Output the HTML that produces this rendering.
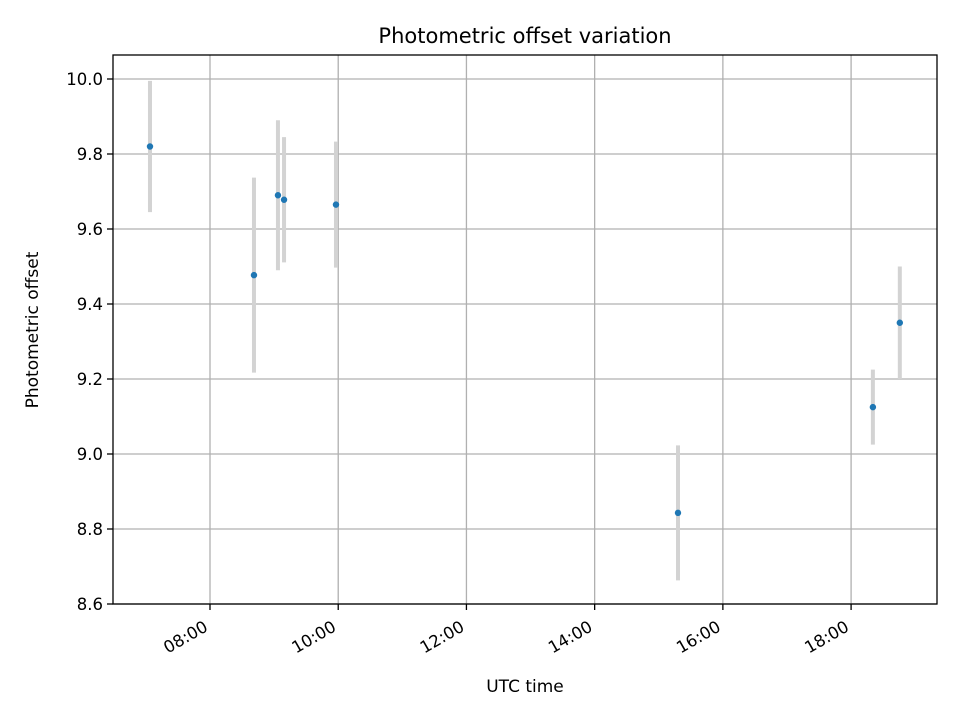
<!DOCTYPE html>
<html><head><meta charset="utf-8"><style>
body{margin:0;background:#fff;}
svg{display:block;font-family:"DejaVu Sans","Liberation Sans",sans-serif;}
</style></head><body>
<svg id="chart" width="960" height="720" viewBox="0 0 960 720">
<rect width="960" height="720" fill="#fff"/>
<text x="525" y="43" text-anchor="middle" font-size="21">Photometric offset variation</text>
<g id="grid"></g><g id="errs"></g><g id="pts"></g><g id="axes"></g>
<text x="525" y="692" text-anchor="middle" font-size="17">UTC time</text>
<text transform="translate(38,330) rotate(-90)" text-anchor="middle" font-size="17">Photometric offset</text>
</svg>
<script>
const times = [7.064, 8.686, 9.06, 9.155, 9.965, 15.3, 18.34, 18.76];
const offsets = [9.82, 9.477, 9.69, 9.678, 9.665, 8.843, 9.125, 9.35];
const errors = [0.175, 0.26, 0.2, 0.167, 0.168, 0.18, 0.1, 0.15];
const yTicks = [8.6, 8.8, 9.0, 9.2, 9.4, 9.6, 9.8, 10.0];
const xTicks = [8, 10, 12, 14, 16, 18];
const xTickLabels = ["08:00","10:00","12:00","14:00","16:00","18:00"];

const L=113,R=937,T=55,B=604;
const xMin=6.487,xMax=19.34,yMin=8.6,yMax=10.064;
const sx=v=>L+(v-xMin)/(xMax-xMin)*(R-L);
const sy=v=>B-(v-yMin)/(yMax-yMin)*(B-T);
const NS="http://www.w3.org/2000/svg";
function mk(tag,attrs,parent){const e=document.createElementNS(NS,tag);for(const k in attrs)e.setAttribute(k,attrs[k]);document.getElementById(parent).appendChild(e);return e;}

yTicks.forEach(v=>{
  const y=sy(v);
  const g=mk('line',{x1:L,x2:R,y1:y,y2:y,stroke:'#b0b0b0','stroke-width':1.3},'grid');
  
  
  const t=mk('line',{x1:L-6,x2:L,y1:y,y2:y,stroke:'#000','stroke-width':1.3},'axes');
  
  
  const tx=mk('text',{x:L-10,y:y+6,'text-anchor':'end','font-size':16.5},'axes');
  tx.textContent=v.toFixed(1);
  
  
});
xTicks.forEach((v,i)=>{
  const x=sx(v);
  const g=mk('line',{x1:x,x2:x,y1:T,y2:B,stroke:'#b0b0b0','stroke-width':1.3},'grid');
  
  
  const t=mk('line',{x1:x,x2:x,y1:B,y2:B+6,stroke:'#000','stroke-width':1.3},'axes');
  
  
  const ax=x-1, ay=B+26;
  const tx=mk('text',{x:ax,y:ay,'text-anchor':'end','font-size':16.5,transform:`rotate(-30 ${ax} ${ay})`},'axes');
  tx.textContent=xTickLabels[i];
  
  
});
const frame=mk('rect',{x:L,y:T,width:R-L,height:B-T,fill:'none',stroke:'#000','stroke-width':1.3},'axes');



times.forEach((t,i)=>{
  const x=sx(t);
  const e=mk('line',{x1:x,x2:x,y1:sy(offsets[i]+errors[i]),y2:sy(offsets[i]-errors[i]),stroke:'#d3d3d3','stroke-width':4},'errs');
  
  
  const c=mk('circle',{cx:x,cy:sy(offsets[i]),r:3.2,fill:'#1f77b4'},'pts');
  
  
});
</script>
</body></html>
